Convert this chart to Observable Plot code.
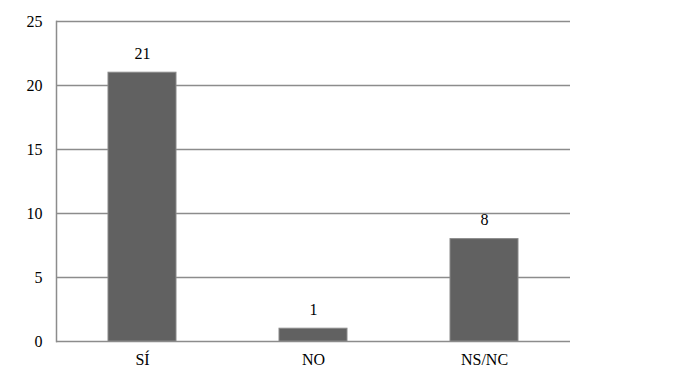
<!DOCTYPE html>
<html>
<head>
<meta charset="utf-8">
<script src="https://cdn.jsdelivr.net/npm/d3@7"></script>
<script src="https://cdn.jsdelivr.net/npm/@observablehq/plot@0.6"></script>
<style>
  html, body { margin: 0; padding: 0; background: #fff; }
  svg { display: block; }
</style>
</head>
<body>
<div id="chart"></div>
<script>
const categories = ["SÍ", "NO", "NS/NC"];
const values = [21, 1, 8];
const yTicks = [0, 5, 10, 15, 20, 25];

const data = categories.map((c, i) => ({ cat: c, value: values[i] }));
const FONT = "'Liberation Serif', serif";

const chart = Plot.plot({
  width: 679,
  height: 381,
  marginLeft: 56,
  marginRight: 109,
  marginTop: 21,
  marginBottom: 40,
  style: { fontFamily: FONT, fontSize: "16px", color: "#000", background: "#fff" },
  x: { domain: categories, paddingInner: 0.6, paddingOuter: 0.3, label: null },
  y: { domain: [0, 25], ticks: yTicks, label: null },
  marks: [
    Plot.ruleY(yTicks, { stroke: "#8c8c8c", strokeWidth: 1.5 }),
    Plot.frame({ anchor: "left", stroke: "#8c8c8c", strokeWidth: 1.5 }),
    Plot.barY(data, { x: "cat", y: "value", fill: "#616161", stroke: "#8a8a8a", strokeWidth: 1 }),
    Plot.text(data, { x: "cat", y: "value", text: d => String(d.value), dy: -19, fill: "#000", fontSize: 16 }),
    Plot.axisY({ ticks: yTicks, tickSize: 0, tickPadding: 14, fontSize: 16, label: null, color: "#000" }),
    Plot.axisX({ tickSize: 0, tickPadding: 12, fontSize: 16, label: null, color: "#000" })
  ]
});
document.getElementById("chart").appendChild(chart);
</script>
</body>
</html>
